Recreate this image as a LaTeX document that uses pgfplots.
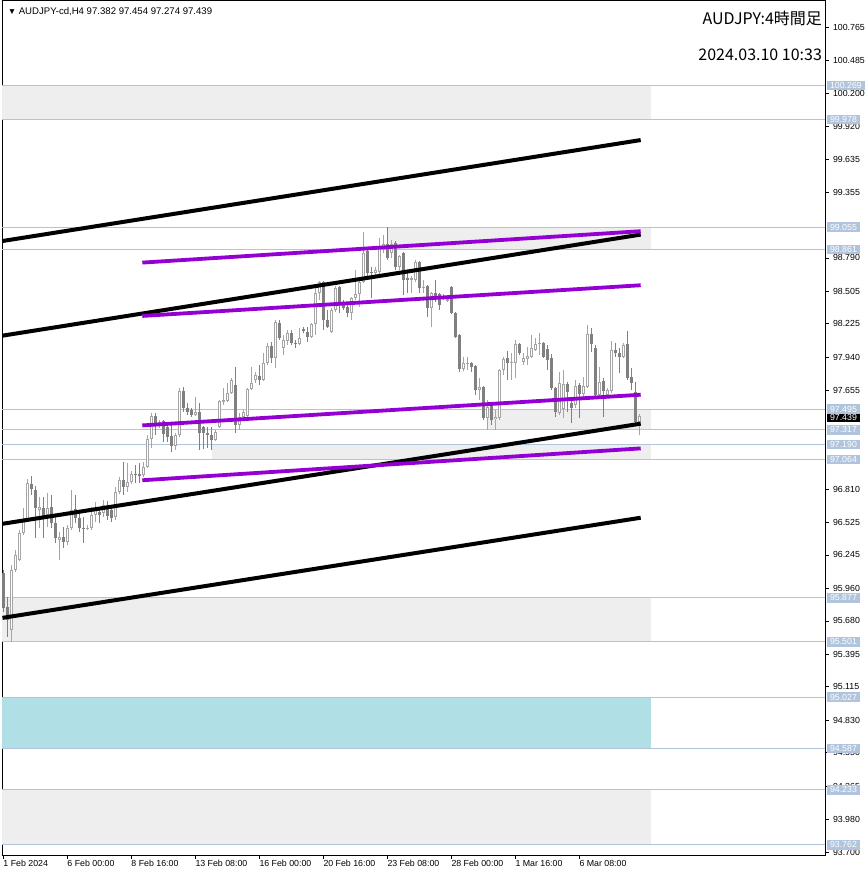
\documentclass[border=0pt]{standalone}
\usepackage{pgfplots}
\usepackage{pgfplotstable}
\usepackage{fontspec}
\pgfplotsset{compat=1.18}
\setmainfont{Liberation Sans}
\newfontfamily\cjk{Noto Sans CJK JP}

\definecolor{lsb}{RGB}{176,196,222}
\definecolor{zonegray}{RGB}{238,238,238}
\definecolor{zonecyan}{RGB}{176,224,230}
\definecolor{bearc}{RGB}{128,128,128}
\definecolor{bullc}{RGB}{165,165,165}
\definecolor{trendv}{RGB}{148,0,211}

% H4 bars, numbered from 0; columns: open high low close
\pgfplotstableread{
i o h l c
2 95.604 96.161 95.501 96.118
3 96.118 96.289 96.101 96.246
4 96.204 96.461 96.195 96.435
5 96.435 96.649 96.418 96.547
6 96.547 96.898 96.538 96.863
9 96.632 96.744 96.478 96.658
11 96.589 96.778 96.487 96.649
14 96.375 96.444 96.204 96.401
16 96.358 96.504 96.332 96.478
17 96.478 96.804 96.461 96.632
21 96.469 96.504 96.461 96.478
22 96.478 96.658 96.461 96.589
23 96.589 96.701 96.529 96.649
25 96.607 96.718 96.572 96.675
28 96.572 96.829 96.547 96.787
29 96.787 96.915 96.769 96.889
31 96.829 97.035 96.787 96.872
32 96.872 96.967 96.855 96.941
35 96.932 97.044 96.915 97.001
36 97.001 97.275 96.992 97.241
37 97.241 97.464 97.164 97.438
39 97.361 97.404 97.335 97.387
43 97.181 97.292 97.147 97.275
44 97.275 97.678 97.258 97.652
48 97.447 97.601 97.438 97.472
53 97.232 97.318 97.224 97.301
54 97.344 97.575 97.335 97.566
55 97.558 97.678 97.532 97.575
56 97.566 97.721 97.558 97.635
57 97.635 97.764 97.627 97.747
59 97.361 97.464 97.318 97.430
60 97.430 97.489 97.421 97.472
61 97.438 97.678 97.430 97.670
62 97.670 97.858 97.661 97.721
63 97.747 97.815 97.721 97.790
65 97.747 97.978 97.738 97.892
66 97.892 98.064 97.875 98.038
68 97.935 98.261 97.849 98.244
70 98.021 98.133 97.961 98.090
71 98.081 98.175 98.047 98.150
74 98.055 98.193 98.047 98.107
77 98.115 98.235 98.107 98.227
78 98.227 98.561 98.133 98.493
79 98.493 98.596 98.433 98.587
82 98.158 98.364 98.150 98.347
83 98.347 98.553 98.330 98.536
87 98.321 98.458 98.261 98.450
88 98.450 98.690 98.433 98.484
89 98.484 98.604 98.373 98.587
90 98.587 99.016 98.578 98.836
93 98.664 98.716 98.647 98.690
94 98.673 98.964 98.647 98.878
95 98.878 98.990 98.836 98.913
97 98.836 98.947 98.793 98.913
99 98.716 98.819 98.690 98.810
102 98.604 98.638 98.493 98.621
103 98.604 98.776 98.587 98.759
105 98.536 98.604 98.493 98.544
107 98.364 98.501 98.201 98.493
110 98.450 98.484 98.433 98.467
111 98.424 98.476 98.416 98.441
115 97.841 97.944 97.824 97.892
116 97.884 97.944 97.832 97.892
119 97.661 97.764 97.575 97.687
121 97.421 97.575 97.318 97.515
123 97.412 97.489 97.318 97.430
124 97.421 97.841 97.404 97.832
125 97.832 97.944 97.790 97.927
127 97.892 97.978 97.747 97.901
128 97.892 98.090 97.764 98.055
130 97.901 97.978 97.875 97.935
131 97.927 98.030 97.875 97.952
132 97.944 98.133 97.935 98.021
133 98.004 98.107 97.995 98.055
134 98.055 98.150 97.961 98.064
139 97.464 97.815 97.447 97.721
140 97.498 97.832 97.421 97.712
143 97.532 97.747 97.506 97.695
145 97.627 97.772 97.601 97.695
146 97.687 98.218 97.678 98.141
149 97.618 97.858 97.592 97.730
151 97.618 97.678 97.601 97.661
152 97.652 98.081 97.635 98.004
155 97.944 98.064 97.935 98.047
159 97.382 97.454 97.274 97.439
}\bull

\pgfplotstableread{
i o h l c
0 96.092 96.118 95.758 95.792
1 95.801 95.886 95.544 95.689
7 96.855 96.924 96.761 96.812
8 96.804 96.838 96.392 96.649
10 96.649 96.744 96.392 96.572
12 96.658 96.761 96.478 96.521
13 96.521 96.572 96.349 96.392
15 96.401 96.487 96.306 96.358
18 96.641 96.761 96.521 96.564
19 96.564 96.615 96.444 96.478
20 96.478 96.572 96.349 96.469
24 96.615 96.658 96.521 96.589
26 96.658 96.710 96.547 96.581
27 96.632 96.675 96.529 96.564
30 96.889 97.044 96.761 96.829
33 96.941 97.018 96.863 96.932
34 96.941 97.035 96.863 96.924
38 97.438 97.464 97.275 97.361
40 97.395 97.404 97.215 97.284
41 97.344 97.361 97.215 97.258
42 97.267 97.378 97.130 97.181
45 97.652 97.687 97.472 97.506
46 97.506 97.549 97.447 97.472
47 97.489 97.506 97.430 97.447
49 97.472 97.549 97.147 97.292
50 97.344 97.352 97.155 97.292
51 97.292 97.344 97.164 97.275
52 97.275 97.344 97.147 97.232
58 97.704 97.858 97.292 97.361
64 97.781 97.875 97.704 97.747
67 98.038 98.073 97.892 97.935
69 98.235 98.261 98.090 98.107
72 98.150 98.175 98.047 98.064
73 98.064 98.090 98.021 98.055
75 98.184 98.201 98.150 98.167
76 98.158 98.201 98.073 98.115
80 98.587 98.596 98.175 98.261
81 98.261 98.347 98.193 98.201
84 98.544 98.553 98.321 98.407
85 98.407 98.433 98.347 98.364
86 98.373 98.390 98.287 98.321
91 98.853 98.878 98.630 98.664
92 98.673 98.716 98.450 98.664
96 98.913 99.059 98.776 98.793
98 98.921 98.938 98.690 98.716
100 98.836 98.844 98.476 98.604
101 98.621 98.690 98.493 98.604
104 98.759 98.767 98.493 98.536
106 98.553 98.561 98.287 98.364
108 98.493 98.604 98.416 98.467
109 98.484 98.493 98.347 98.390
112 98.544 98.553 98.313 98.321
113 98.321 98.330 98.107 98.115
114 98.133 98.141 97.815 97.841
117 97.892 97.901 97.815 97.858
118 97.867 97.875 97.618 97.661
120 97.687 97.695 97.404 97.421
122 97.532 97.558 97.361 97.404
126 97.935 97.995 97.747 97.892
129 98.055 98.064 97.961 97.978
135 98.064 98.072 97.935 97.944
136 98.012 98.047 97.832 97.918
137 97.935 97.970 97.661 97.678
138 97.678 97.687 97.430 97.472
141 97.712 97.730 97.472 97.644
142 97.549 97.592 97.378 97.506
144 97.704 97.721 97.421 97.627
147 98.141 98.193 97.987 98.055
148 98.021 98.047 97.601 97.618
150 97.738 97.764 97.430 97.652
153 98.004 98.064 97.944 97.978
154 97.978 98.021 97.807 97.944
156 98.055 98.167 97.747 97.764
157 97.772 97.850 97.661 97.721
158 97.644 97.730 97.378 97.387
}\bear

\pgfplotsset{
  candle/.style 2 args={only marks, mark=*, mark size=0pt, mark options={draw=none, fill=none},
    error bars/.cd, y dir=plus, y explicit, error mark=none,
    error bar style={line width=#2, draw=#1}},
}
\tikzset{
  pricebox/.style={anchor=west, inner xsep=3.5pt, inner ysep=0.8pt, minimum height=9.5pt,
    xshift=1pt, font=\fontsize{8.8}{10}\selectfont},
}

\begin{document}
\begin{tikzpicture}
\begin{axis}[
  name=ax,
  scale only axis,
  width=822.8pt, height=854.8pt,
  xmin=-0.2, xmax=205.5,
  ymin=93.6716, ymax=100.9958,
  clip=false,
  axis line style={black, line width=1pt},
  tick style={black, line width=0.8pt},
  tick align=outside,
  major tick length=4pt,
  xtick pos=bottom,
  ytick pos=right,
  xtick={0,16,32,48,64,80,96,112,128,144},
  xticklabels={1 Feb 2024, 6 Feb 00:00, 8 Feb 16:00, 13 Feb 08:00, 16 Feb 00:00,
    20 Feb 16:00, 23 Feb 08:00, 28 Feb 00:00, 1 Mar 16:00, 6 Mar 08:00},
  xticklabel style={anchor=north west, inner sep=0pt, yshift=-1pt, font=\fontsize{8.8}{10}\selectfont},
  ytick={100.765,100.485,100.200,99.920,99.635,99.355,98.790,98.505,98.225,
    97.940,97.655,96.810,96.525,96.245,95.960,95.680,95.395,95.115,94.830,
    94.550,94.265,93.980,93.700},
  yticklabels={100.765,100.485,100.200,99.920,99.635,99.355,98.790,98.505,98.225,
    97.940,97.655,96.810,96.525,96.245,95.960,95.680,95.395,95.115,94.830,
    94.550,94.265,93.980,93.700},
  yticklabel style={anchor=west, inner xsep=3.5pt, inner ysep=0.8pt, font=\fontsize{8.8}{10}\selectfont},
  /pgf/number format/assume math mode=true,
]
% zones
\addplot[fill=zonegray, draw=none] coordinates {(-0.2,99.978) (161.9,99.978) (161.9,100.269) (-0.2,100.269)} -- cycle;
\addplot[fill=zonegray, draw=none] coordinates {(96.05,98.861) (161.9,98.861) (161.9,99.055) (96.05,99.055)} -- cycle;
\addplot[fill=zonegray, draw=none] coordinates {(121.1,97.317) (161.9,97.317) (161.9,97.495) (121.1,97.495)} -- cycle;
\addplot[fill=zonegray, draw=none] coordinates {(52.1,97.064) (161.9,97.064) (161.9,97.190) (52.1,97.190)} -- cycle;
\addplot[fill=zonegray, draw=none] coordinates {(-0.2,95.501) (161.9,95.501) (161.9,95.877) (-0.2,95.877)} -- cycle;
\addplot[fill=zonecyan, draw=none] coordinates {(-0.2,94.587) (161.9,94.587) (161.9,95.027) (-0.2,95.027)} -- cycle;
\addplot[fill=zonegray, draw=none] coordinates {(-0.2,93.762) (161.9,93.762) (161.9,94.233) (-0.2,94.233)} -- cycle;
% price levels
\pgfplotsinvokeforeach{100.269,99.978,99.055,98.861,97.495,97.317,97.190,97.064,95.877,95.501,95.027,94.587,94.233,93.762}{
  \addplot[lsb, line width=1pt] coordinates {(-0.2,#1) (205.5,#1)};
}
% wicks
\addplot[candle={bullc}{1pt}] table[x=i, y=l, y error plus expr=\thisrow{h}-\thisrow{l}] {\bull};
\addplot[candle={bearc}{1pt}] table[x=i, y=l, y error plus expr=\thisrow{h}-\thisrow{l}] {\bear};
% bodies
\addplot[candle={bearc}{3pt}] table[x=i, y=c, y error plus expr=\thisrow{o}-\thisrow{c}] {\bear};
\addplot[candle={bullc}{3pt}] table[x=i, y=o, y error plus expr=\thisrow{c}-\thisrow{o}] {\bull};
\addplot[candle={white}{1pt}]
  table[x=i, y expr=\thisrow{o}+0.0086, y error plus expr={max(\thisrow{c}-\thisrow{o}-0.0172,0)}] {\bull};
% channel lines
\addplot[black, line width=4pt] coordinates {(-0.2,98.935) (159.35,99.800)};
\addplot[black, line width=4pt] coordinates {(-0.2,98.124) (159.35,98.990)};
\addplot[black, line width=4pt] coordinates {(-0.2,96.512) (159.35,97.370)};
\addplot[black, line width=4pt] coordinates {(-0.2,95.706) (159.35,96.564)};
\addplot[trendv, line width=3.8pt] coordinates {(34.75,98.750) (159.35,99.019)};
\addplot[trendv, line width=3.8pt] coordinates {(34.75,98.293) (159.35,98.556)};
\addplot[trendv, line width=3.8pt] coordinates {(34.75,97.355) (159.35,97.618)};
\addplot[trendv, line width=3.8pt] coordinates {(34.75,96.885) (159.35,97.158)};
% texts
\node[anchor=west, inner sep=0pt, font=\fontsize{9.6}{11}\selectfont] at (axis cs:1.1,100.9)
  {{\fontsize{8.5}{9}\selectfont ▼}\hspace{2.5pt}AUDJPY-cd,H4 97.382 97.454 97.274 97.439};
\node[anchor=east, inner sep=0pt, font=\cjk\fontsize{16}{18}\selectfont] at (axis cs:204.7,100.842) {AUDJPY:4時間足};
\node[anchor=east, inner sep=0pt, font=\cjk\fontsize{16}{18}\selectfont] at (axis cs:204.7,100.533) {2024.03.10 10:33};
\pgfplotsinvokeforeach{100.269,99.978,99.055,98.861,97.495,97.317,97.190,97.064,95.877,95.501,95.027,94.587,94.233,93.762}{
  \node[pricebox, fill=lsb, text=white] at (axis cs:205.5,#1) {#1};
}
\node[pricebox, fill=black, text=white, minimum height=8pt, inner ysep=0.3pt, yshift=-2pt]
  at (axis cs:205.5,97.439) {97.439};
\end{axis}
\pgfresetboundingbox
\path (ax.south west) ++(-2.5pt,-20.7pt) rectangle ++(866pt,876pt);
\end{tikzpicture}
\end{document}
